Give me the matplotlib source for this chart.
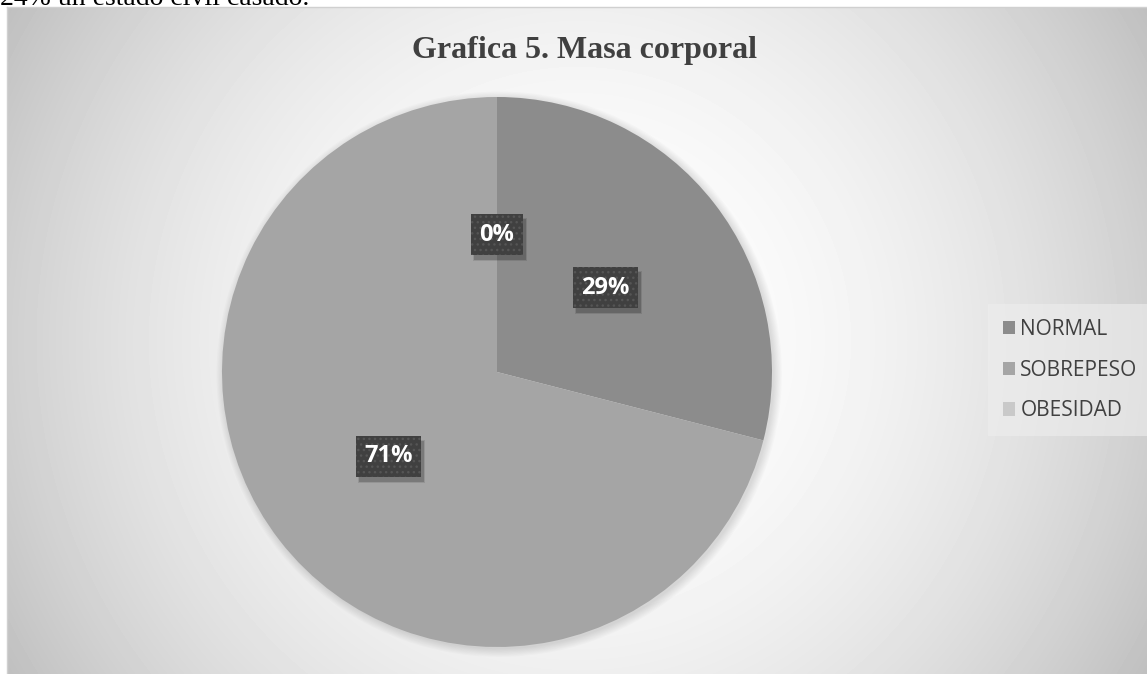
import numpy as np
import matplotlib.pyplot as plt
from matplotlib.patches import Circle, Rectangle
from matplotlib.transforms import IdentityTransform

categories = ['NORMAL', 'SOBREPESO', 'OBESIDAD']
values = [29, 71, 0]
colors = ['#8c8c8c', '#a5a5a5', '#c9c9c9']
title = 'Grafica 5. Masa corporal'
body_text = '24% un estado civil casado.'

W, H = 1147, 674


def fx(px):
    return px / W


def fy(py):
    return 1 - py / H


fig = plt.figure(figsize=(W / 100, H / 100), dpi=100)
fig.patch.set_facecolor('white')

# text from the document above the chart, cut off at the top
fig.text(fx(0), fy(5), body_text, family='Liberation Serif', fontsize=20,
         color='black', va='baseline', ha='left')

# chart area with a radial grey gradient
bg = fig.add_axes([fx(7), 0, 1 - fx(7), 1 - 7 / H])
gw, gh = W - 7, H - 7
yy, xx = np.mgrid[0:gh, 0:gw]
d = np.hypot(xx - 570, yy - 333)
shade = 1 - 0.25 * (d / 660) ** 2
bg.imshow(shade, cmap='gray', vmin=0, vmax=1, aspect='auto',
          extent=(0, gw, gh, 0), interpolation='bilinear')
bg.set_xticks([])
bg.set_yticks([])
for s in ['right', 'bottom']:
    bg.spines[s].set_visible(False)
for s in ['top', 'left']:
    bg.spines[s].set_color('#d0d0d0')
    bg.spines[s].set_linewidth(1)

fig.text(fx(584), fy(58), title, family='Liberation Serif', weight='bold',
         fontsize=23, color='#404040', ha='center', va='baseline')

# pie
r = 275
ax = fig.add_axes([fx(497 - r), fy(372 + r), 2 * r / W, 2 * r / H])
for i in range(8):
    ax.add_patch(Circle((0.008, -0.008), 1 + 0.004 * i, color='black',
                        alpha=0.015, lw=0, clip_on=False))
wedges, texts, autotexts = ax.pie(values, colors=colors, startangle=90,
                                  counterclock=False, radius=1,
                                  autopct=lambda p: '%.0f%%' % p,
                                  pctdistance=0.5,
                                  wedgeprops=dict(linewidth=0))
ax.set_xlim(-1, 1)
ax.set_ylim(-1, 1)
ax.set_axis_off()

for t in autotexts:
    t.set_color('white')
    t.set_fontweight('bold')
    t.set_fontsize(17)
    t.set_family('Open Sans')
    t.set_zorder(5)
    t.set_bbox(dict(boxstyle='square,pad=0.36', facecolor='#404040',
                    edgecolor='#555555', linewidth=0, hatch='...'))

leg = fig.legend(wedges, categories, loc='center left',
                 bbox_to_anchor=(fx(988), fy(370)), borderaxespad=0,
                 prop=dict(family='Open Sans', size=15),
                 labelcolor='#404040', frameon=True, fancybox=False,
                 handlelength=0.6, handleheight=0.6, handletextpad=0.25,
                 labelspacing=0.95, borderpad=0.7)
leg.get_frame().set_facecolor('#eeeeee')
leg.get_frame().set_alpha(0.6)
leg.get_frame().set_linewidth(0)

# drop shadows behind the label boxes
fig.canvas.draw()
for t in autotexts:
    bb = t.get_bbox_patch().get_window_extent()
    for k, a in [(0, 0.18), (1, 0.1)]:
        ax.add_patch(Rectangle((bb.x0 + 3 - k, bb.y0 - 5 - k),
                               bb.width + 2 * k, bb.height + 2 * k,
                               transform=IdentityTransform(),
                               facecolor='black', alpha=a, lw=0,
                               zorder=4, clip_on=False))

fig.savefig('out.png', dpi=100)
